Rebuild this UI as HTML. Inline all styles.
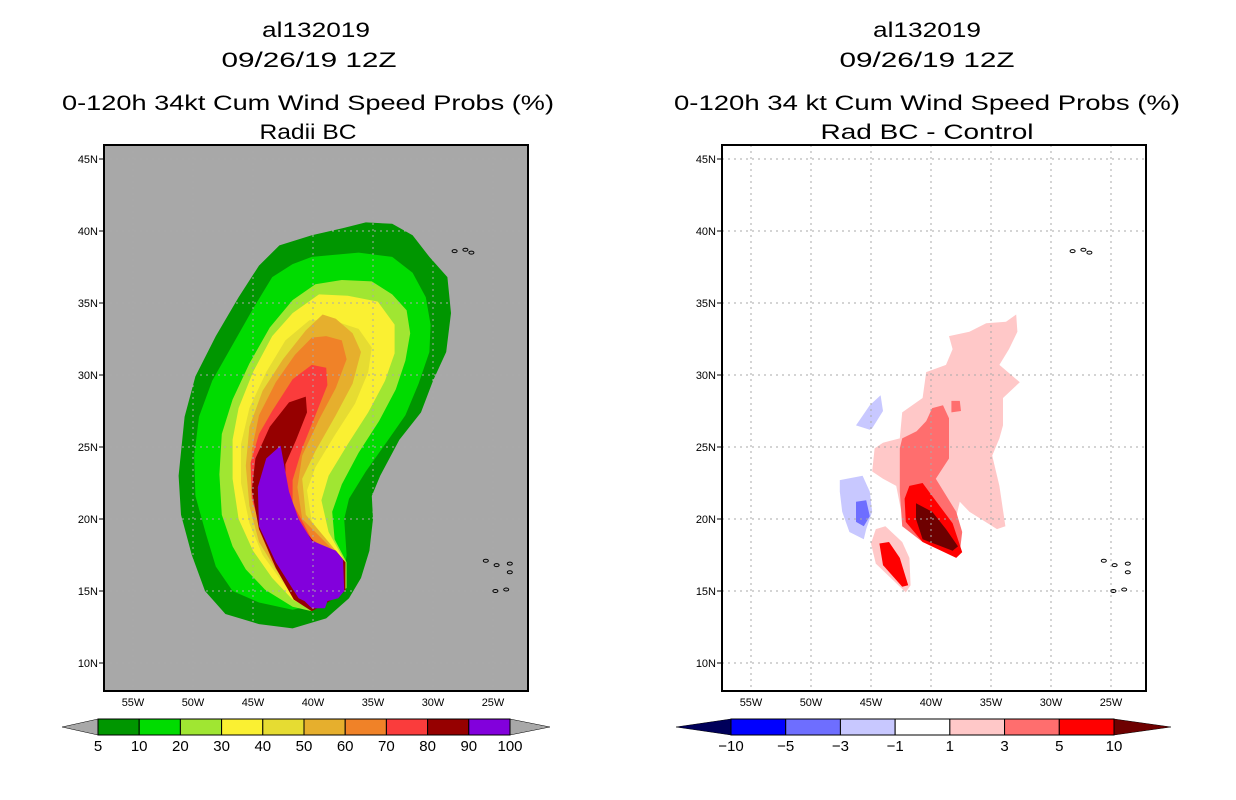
<!DOCTYPE html>
<html><head><meta charset="utf-8">
<style>
html,body{margin:0;padding:0;background:#fff;}
svg{display:block;font-family:"Liberation Sans","DejaVu Sans",sans-serif;}
</style></head>
<body>
<svg id="root" width="1236" height="800" viewBox="0 0 1236 800" xmlns="http://www.w3.org/2000/svg">
<g font-size="21" text-anchor="middle" fill="#000">
<text x="316" y="37" textLength="108" lengthAdjust="spacingAndGlyphs">al132019</text>
<text x="309" y="67" textLength="175" lengthAdjust="spacingAndGlyphs">09/26/19 12Z</text>
<text x="308" y="110" textLength="492" lengthAdjust="spacingAndGlyphs">0-120h 34kt Cum Wind Speed Probs (%)</text>
<text x="308" y="139" textLength="97" lengthAdjust="spacingAndGlyphs">Radii BC</text>
</g>
<g font-size="21" text-anchor="middle" fill="#000">
<text x="927" y="37" textLength="108" lengthAdjust="spacingAndGlyphs">al132019</text>
<text x="927" y="67" textLength="175" lengthAdjust="spacingAndGlyphs">09/26/19 12Z</text>
<text x="927" y="110" textLength="506" lengthAdjust="spacingAndGlyphs">0-120h 34 kt Cum Wind Speed Probs (%)</text>
<text x="927" y="139" textLength="213" lengthAdjust="spacingAndGlyphs">Rad BC - Control</text>
</g>
<g id="left"></g>
<g id="right"></g>
<g id="cbars"></g>
</svg>
<script>
// ---- data ----
const lonTicks=[-55,-50,-45,-40,-35,-30,-25];
const latTicks=[45,40,35,30,25,20,15,10];
const leftLevels=[5,10,20,30,40,50,60,70,80,90,100];
const leftColors=['#009600','#00dc00','#a0e632','#faf032','#e6dc32','#e6af2d','#f08228','#fa3c3c','#960000','#8200dc'];
const rightLevels=['-10','-5','-3','-1','1','3','5','10'];
const rightColors=['#0000ff','#6e6eff','#c8c8ff','#ffffff','#ffc8c8','#ff6e6e','#ff0000'];
const p5=[[-35.6,40.6],[-33.4,40.5],[-31.7,39.7],[-30.3,38.2],[-28.8,36.8],[-28.5,34.3],[-28.9,31.6],[-30,29.6],[-31,27.4],[-32.8,25.5],[-34.4,23.0],[-35.1,21.6],[-35,20],[-35.3,17.8],[-36,15.9],[-37,14.5],[-38.9,13.1],[-41.7,12.4],[-44.5,12.7],[-47.3,13.4],[-49,15],[-50.1,17.5],[-51,20.3],[-51.2,23],[-50.7,27.1],[-49.8,29.9],[-48.1,32.7],[-46.2,35.4],[-44.5,37.6],[-42.8,39],[-40.1,39.7],[-37.5,40.2]];
const p10=[[-40.1,38.2],[-36.2,38.5],[-33.4,38.2],[-31.7,37.1],[-30.6,35.4],[-30.2,33.5],[-30.3,31.6],[-31.2,29.4],[-32.3,27.2],[-33.9,25.3],[-35.6,23.3],[-37,21.4],[-37.4,20],[-37.2,17.5],[-37.5,15.6],[-38.9,14.2],[-41.7,13.7],[-44.5,14.2],[-46.7,15],[-48.1,16.7],[-48.9,18.9],[-49.8,21.6],[-49.9,24.4],[-49.5,27.1],[-48.4,29.6],[-46.7,32.1],[-45,34.6],[-43.4,36.8],[-41.7,37.7]];
const p20=[[-37.6,36.6],[-35.1,36.5],[-33.4,35.6],[-32.2,34.5],[-31.9,32.9],[-32.3,31],[-33.1,29],[-34.5,26.8],[-36.2,24.6],[-37.6,22.4],[-38.4,20.5],[-38.2,18.6],[-37.2,17.0],[-37.2,15.2],[-38.7,14.6],[-40.1,13.6],[-41.7,13.9],[-44,15.1],[-45.6,16.5],[-46.7,18.1],[-47.6,20.3],[-47.8,23.1],[-47.6,25.9],[-46.7,28.3],[-45.3,30.8],[-43.6,33.3],[-41.7,35.2],[-39.8,36.3]];
const p30=[[-37.1,35.5],[-34.6,35.1],[-33.2,33.5],[-33.2,31.5],[-34,29.6],[-35.4,27.4],[-37.1,25.2],[-38.7,23],[-39.3,21.3],[-38.7,19.1],[-37.3,17.0],[-37.3,15.1],[-38.9,14.3],[-40.1,13.7],[-41.7,14.4],[-43.4,15.9],[-45,17.8],[-46.2,20],[-46.7,22.8],[-46.7,25.5],[-46.2,27.7],[-45,30.2],[-43.4,32.7],[-41.7,34.3],[-39.5,35.6]];
const p40=[[-38.4,33.8],[-36.2,33.2],[-35.1,31.9],[-35.4,30.2],[-36.5,28],[-38.2,25.8],[-39.8,23.6],[-40.5,22],[-40.1,19.8],[-37.3,17.0],[-37.4,15.1],[-38.9,14.4],[-40.1,13.8],[-41.7,14.7],[-42.8,15.9],[-44.2,17.5],[-45.3,19.7],[-46,22.5],[-46,25.2],[-45.3,27.7],[-43.9,30.2],[-42.3,32.4],[-40.3,33.8]];
const p50=[[-38.1,33.9],[-36.7,32.9],[-36,31.6],[-36.7,29.4],[-38.1,27.2],[-39.8,24.7],[-40.9,22.8],[-40.6,20.3],[-37.3,17.0],[-37.4,15.1],[-38.9,14.3],[-40.1,13.75],[-41.7,14.9],[-43.1,16.5],[-44.5,18.4],[-45.3,20.9],[-45.6,23.7],[-45.3,26.4],[-44.2,28.9],[-42.5,31.1],[-40.6,33.1],[-39.2,34.2]];
const p60=[[-38.9,32.7],[-37.6,32.4],[-37.2,31.1],[-38.1,29.1],[-39.5,26.9],[-40.9,24.4],[-41.3,22.2],[-40.9,20],[-37.3,17.0],[-37.4,15.1],[-38.9,14.25],[-40.1,13.7],[-41.7,14.9],[-43.4,17.1],[-44.5,19.3],[-45.1,22],[-45.1,24.8],[-44.5,27.2],[-43.1,29.5],[-41.5,31.4],[-40.1,32.6]];
const p70=[[-40.1,30.7],[-38.9,30.5],[-38.8,29.3],[-39.8,27.2],[-40.9,24.9],[-41.7,22.7],[-41.7,21.1],[-40.1,18.6],[-37.3,17.0],[-37.4,15.1],[-38.9,14.2],[-40.1,13.65],[-41.7,14.8],[-42.8,16.3],[-44.2,18.9],[-45.1,21.4],[-45.2,23.9],[-44.5,25.9],[-43.4,27.5],[-41.7,29.7]];
const p80=[[-40.6,28.5],[-40.5,27.4],[-41.4,25.5],[-42.3,23.8],[-42.3,21.6],[-41.2,19.7],[-39.8,18.3],[-38.1,17.8],[-37.3,17.0],[-37.3,15.0],[-38.9,14.15],[-40.1,13.6],[-41.6,14.4],[-43.1,16.6],[-44.5,19.3],[-45.1,22],[-44.8,24.2],[-43.6,26.4],[-42,28.1]];
const p90=[[-42.7,25.1],[-42,21.9],[-41.2,20],[-40.1,18.5],[-38.1,17.8],[-37.5,17.2],[-37.4,15],[-37.9,14.5],[-38.8,14.3],[-39,13.8],[-40.1,13.8],[-40.7,14.3],[-41.2,14.5],[-43.1,17],[-44.5,19.5],[-44.6,22.2],[-43.9,24.2]];
const leftPolys=[p5,p10,p20,p30,p40,p50,p60,p70,p80,p90];
const rPink1=[[-38.5,32.7],[-36.8,33],[-35.4,33.6],[-33.75,33.7],[-32.9,34.2],[-32.8,33],[-33.5,31.8],[-34.3,30.7],[-32.6,29.5],[-34,28.4],[-34,26.5],[-34.3,25.6],[-34.9,24.4],[-34.3,22.3],[-33.8,19.5],[-34.5,19.3],[-36.8,20.5],[-37.6,21.2],[-38.2,19.1],[-37.4,17.7],[-37.9,17.3],[-38.75,18.4],[-40.7,18.6],[-42.4,20.2],[-42.9,22.3],[-44,22.8],[-44.9,23.3],[-44.7,24.9],[-44,25.3],[-42.6,25.6],[-42.4,27.4],[-40.7,28.4],[-40.4,30.2],[-38.75,30.7],[-38.2,31.8]];
const rPink2=[[-44.6,19.3],[-43.8,19.5],[-42.4,18.4],[-41.8,17.3],[-41.7,15.4],[-42.1,14.9],[-44.6,16.9],[-45,18.3]];
const rLightRed=[[-39.9,27.7],[-39.0,27.9],[-38.5,27],[-38.5,24.2],[-39.6,22.8],[-37.9,20.5],[-37.4,19.1],[-37.6,17.7],[-40.7,18.4],[-42.4,19.5],[-42.6,21.9],[-42.6,24.9],[-42.4,25.6],[-41.2,26.1],[-40.4,26.8]];
const rLightRed2=[[-38.3,28.2],[-37.6,28.2],[-37.5,27.5],[-38.3,27.4]];
const rRed1=[[-41.8,22.3],[-40.7,22.5],[-39.9,21.6],[-38.2,19.7],[-37.4,17.7],[-37.9,17.3],[-40.7,18.4],[-42.1,19.8],[-42.2,21.4]];
const rRed2=[[-44.3,18.3],[-43.5,18.4],[-42.6,17.3],[-41.9,15.4],[-42.4,15.3],[-44,16.8]];
const rDark=[[-41.25,21.1],[-39.9,20.5],[-38.75,19.3],[-37.75,18.1],[-38.2,17.8],[-40.7,18.6],[-41.25,20.0]];
const rBlueLight1=[[-47.6,22.7],[-45.7,23],[-45.1,21.9],[-44.9,20.5],[-45.4,19.3],[-45.6,18.6],[-46.8,19.1],[-47.4,20.5],[-47.6,21.9]];
const rBlueLight2=[[-46.25,26.5],[-45.1,27.9],[-44.2,28.6],[-44,27.5],[-44.9,26.3],[-45.1,26.2]];
const rBlueMid=[[-46.25,21.2],[-45.4,21.3],[-45.1,20.2],[-45.6,19.5],[-46.25,19.8]];
const rightPolys=[[rPink1,'#ffc8c8'],[rPink2,'#ffc8c8'],[rLightRed,'#ff6e6e'],[rLightRed2,'#ff6e6e'],[rRed1,'#ff0000'],[rRed2,'#ff0000'],[rDark,'#6e0000'],[rBlueLight1,'#c8c8ff'],[rBlueLight2,'#c8c8ff'],[rBlueMid,'#6e6eff']];
const islands=[[-28.2,38.6],[-27.3,38.7],[-26.8,38.5],[-25.6,17.1],[-24.7,16.8],[-23.6,16.9],[-23.6,16.3],[-24.8,15.0],[-23.9,15.1]];

// ---- axis ----
const NS='http://www.w3.org/2000/svg';
function mk(tag,attrs,parent){const e=document.createElementNS(NS,tag);for(const k in attrs)e.setAttribute(k,attrs[k]);parent.appendChild(e);return e;}
const FR={top:145,bottom:691,w:424};
function xs(off){return lon=>off+133+(lon+55)*12;}
function ys(lat){return 159+(45-lat)*14.4;}
function pathOf(poly,X){return 'M'+poly.map(p=>X(p[0]).toFixed(1)+','+ys(p[1]).toFixed(1)).join('L')+'Z';}

function drawMap(g,off,bg,polys){
  const X=xs(off);const L=104+off;
  const bgR=mk('rect',{x:L,y:FR.top,width:FR.w,height:FR.bottom-FR.top,fill:bg},g);
  
  
  polys.forEach((pc,i)=>{
    const p=mk('path',{d:pathOf(pc[0],X),fill:pc[1]},g);
    
    
  });
  lonTicks.forEach(lon=>{
    const ln=mk('line',{x1:X(lon),x2:X(lon),y1:FR.top,y2:FR.bottom,stroke:'#aaa','stroke-width':1,'stroke-dasharray':'2,4'},g);
    
    
    const t=mk('text',{x:X(lon),y:706,'font-size':11,'text-anchor':'middle'},g);t.textContent=(-lon)+'W';
    
    
  });
  latTicks.forEach(lat=>{
    const ln=mk('line',{x1:L,x2:L+FR.w,y1:ys(lat),y2:ys(lat),stroke:'#aaa','stroke-width':1,'stroke-dasharray':'2,4'},g);
    
    
    mk('line',{x1:L-5,x2:L,y1:ys(lat),y2:ys(lat),stroke:'#000'},g);
    const t=mk('text',{x:L-6,y:ys(lat)+4,'font-size':11,'text-anchor':'end'},g);t.textContent=lat+'N';
    
    
  });
  islands.forEach(p=>{
    const c=mk('ellipse',{cx:X(p[0]),cy:ys(p[1]),rx:2.5,ry:1.5,fill:'none',stroke:'#000','stroke-width':1},g);
    
    
  });
  const fr=mk('rect',{x:L,y:FR.top,width:FR.w,height:FR.bottom-FR.top,fill:'none',stroke:'#000','stroke-width':2},g);
  
  
}
drawMap(document.getElementById('left'),0,'#a8a8a8',leftPolys.map((p,i)=>[p,leftColors[i]]));
drawMap(document.getElementById('right'),618,'#ffffff',rightPolys);

// ---- colorbars ----
const cb=document.getElementById('cbars');
function drawBar(x0,x1,tipL,tipR,colors,labels,lc,rc,name){
  const y0=719,y1=735,w=(x1-x0)/colors.length;
  const tl=mk('polygon',{points:`${tipL},727 ${x0},${y0} ${x0},${y1}`,fill:lc,stroke:'#000','stroke-width':0.5},cb);
  
  
  const tr=mk('polygon',{points:`${tipR},727 ${x1},${y0} ${x1},${y1}`,fill:rc,stroke:'#000','stroke-width':0.5},cb);
  
  
  colors.forEach((c,i)=>{
    const r=mk('rect',{x:x0+i*w,y:y0,width:w,height:y1-y0,fill:c,stroke:'#000','stroke-width':1},cb);
    
    
  });
  labels.forEach((l,i)=>{
    const t=mk('text',{x:x0+i*w,y:751,'font-size':15,'text-anchor':'middle'},cb);
    t.textContent=String(l).replace('-','\u2212');
    
    
  });
}
drawBar(98,510,62,550,leftColors,leftLevels,'#a8a8a8','#a8a8a8','left-colorbar');
drawBar(731,1114,676,1171,rightColors,rightLevels,'#00005a','#6e0000','right-colorbar');
</script>
</body></html>
